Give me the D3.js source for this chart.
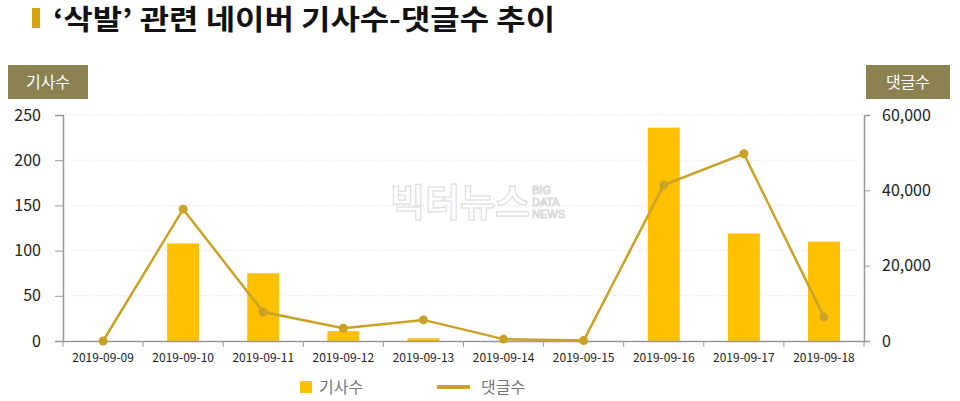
<!DOCTYPE html>
<html><head><meta charset="utf-8">
<script src="https://cdn.jsdelivr.net/npm/d3@7"></script>
<style>body{margin:0;background:#fff;}svg{display:block;font-family:"Noto Sans CJK KR","Noto Sans",sans-serif;}</style>
</head><body>
<svg id="c" width="960" height="401"></svg>
<script>
const categories = ["2019-09-09","2019-09-10","2019-09-11","2019-09-12","2019-09-13","2019-09-14","2019-09-15","2019-09-16","2019-09-17","2019-09-18"];
const articles = [0,108,75,11,3,0,0,236,119,110];
const comments = [0,35000,7700,3400,5600,500,100,41400,49700,6400];
const leftTicks = [0,50,100,150,200,250];
const rightTicks = [0,20000,40000,60000];
const title = "‘삭발’ 관련 네이버 기사수-댓글수 추이";

const svg = d3.select("#c");
const L = 63, R = 864, T = 115, B = 341;
const x = d3.scaleBand().domain(categories).range([L, R]);
const yL = d3.scaleLinear().domain([0,250]).range([B, T]);
const yR = d3.scaleLinear().domain([0,60000]).range([B, T]);
const gold = "#FFC000", lineC = "#C9A227", olive = "#8C8150";

// title
svg.append("rect").attr("x",32).attr("y",8).attr("width",8).attr("height",20).attr("fill","#D4A510");
svg.append("text").attr("x",53).attr("y",30).attr("font-size",28).attr("font-weight","bold").attr("fill","#111")
  .attr("textLength",502).attr("lengthAdjust","spacingAndGlyphs").text(title);

// axis label boxes
svg.append("rect").attr("x",8).attr("y",65).attr("width",80).attr("height",34).attr("fill",olive);
svg.append("text").attr("x",48).attr("y",88).attr("text-anchor","middle").attr("fill","#fff").attr("font-size",16).text("기사수");
svg.append("rect").attr("x",866).attr("y",65).attr("width",84).attr("height",34).attr("fill",olive);
svg.append("text").attr("x",908).attr("y",88).attr("text-anchor","middle").attr("fill","#fff").attr("font-size",16).text("댓글수");

// grid
svg.append("g").selectAll("line").data(leftTicks.filter(d=>d>0)).join("line")
  .attr("x1",L).attr("x2",R).attr("y1",d=>yL(d)).attr("y2",d=>yL(d))
  .attr("stroke","#d9d9d9").attr("stroke-dasharray","1,2");

// watermark
const wm = svg.append("g").attr("fill","#fff").attr("stroke","#dadada").attr("stroke-width",1);
wm.append("text").attr("x",390).attr("y",216).attr("font-size",38).attr("font-weight","bold").text("빅터뉴스");
wm.append("text").attr("x",532).attr("y",194).attr("font-size",11).attr("font-family","Liberation Sans").text("BIG");
wm.append("text").attr("x",532).attr("y",206).attr("font-size",11).attr("font-family","Liberation Sans").text("DATA");
wm.append("text").attr("x",532).attr("y",218).attr("font-size",11).attr("font-family","Liberation Sans").text("NEWS");

// bars
const bw = 32;
svg.append("g").selectAll("rect").data(articles).join("rect")
  .attr("x",(d,i)=>x(categories[i])+x.bandwidth()/2-bw/2)
  .attr("y",d=>yL(d)).attr("width",bw).attr("height",d=>B-yL(d)).attr("fill",gold);

// axes
const axL = svg.append("g").attr("transform",`translate(${L},0)`)
  .call(d3.axisLeft(yL).tickValues(leftTicks).tickSize(8).tickPadding(14));
const axR = svg.append("g").attr("transform",`translate(${R},0)`)
  .call(d3.axisRight(yR).tickValues(rightTicks).tickSize(6).tickPadding(12).tickFormat(d3.format(",")));
const axB = svg.append("g").attr("transform",`translate(0,${B})`)
  .call(d3.axisBottom(x).tickSize(0).tickPadding(12));
axB.append("g").selectAll("line").data(d3.range(categories.length+1)).join("line")
  .attr("x1",i=>L+i*x.step()).attr("x2",i=>L+i*x.step()).attr("y1",0).attr("y2",6).attr("stroke","#999");
[axL,axR,axB].forEach(a=>{
  a.selectAll(".domain").attr("stroke","#999").attr("stroke-width",1.5);
  a.selectAll(".tick line").attr("stroke","#999");
  a.selectAll("text").attr("fill","#222").attr("font-family","Noto Sans CJK KR");
});
axL.selectAll("text").attr("font-size",16);
axR.selectAll("text").attr("font-size",16);
axB.selectAll("text").attr("font-size",12);

// line
const line = d3.line().x((d,i)=>x(categories[i])+x.bandwidth()/2).y(d=>yR(d));
svg.append("path").datum(comments).attr("d",line).attr("fill","none").attr("stroke",lineC).attr("stroke-width",2.5);
svg.append("g").selectAll("circle").data(comments).join("circle")
  .attr("cx",(d,i)=>x(categories[i])+x.bandwidth()/2).attr("cy",d=>yR(d)).attr("r",4.5).attr("fill",lineC);

// legend
svg.append("rect").attr("x",300).attr("y",381).attr("width",12).attr("height",12).attr("fill",gold);
svg.append("text").attr("x",319).attr("y",393).attr("font-size",16).attr("fill","#777").text("기사수");
svg.append("line").attr("x1",437).attr("x2",470).attr("y1",387).attr("y2",387).attr("stroke",lineC).attr("stroke-width",4);
svg.append("text").attr("x",481).attr("y",393).attr("font-size",16).attr("fill","#777").text("댓글수");
</script>
</body></html>
